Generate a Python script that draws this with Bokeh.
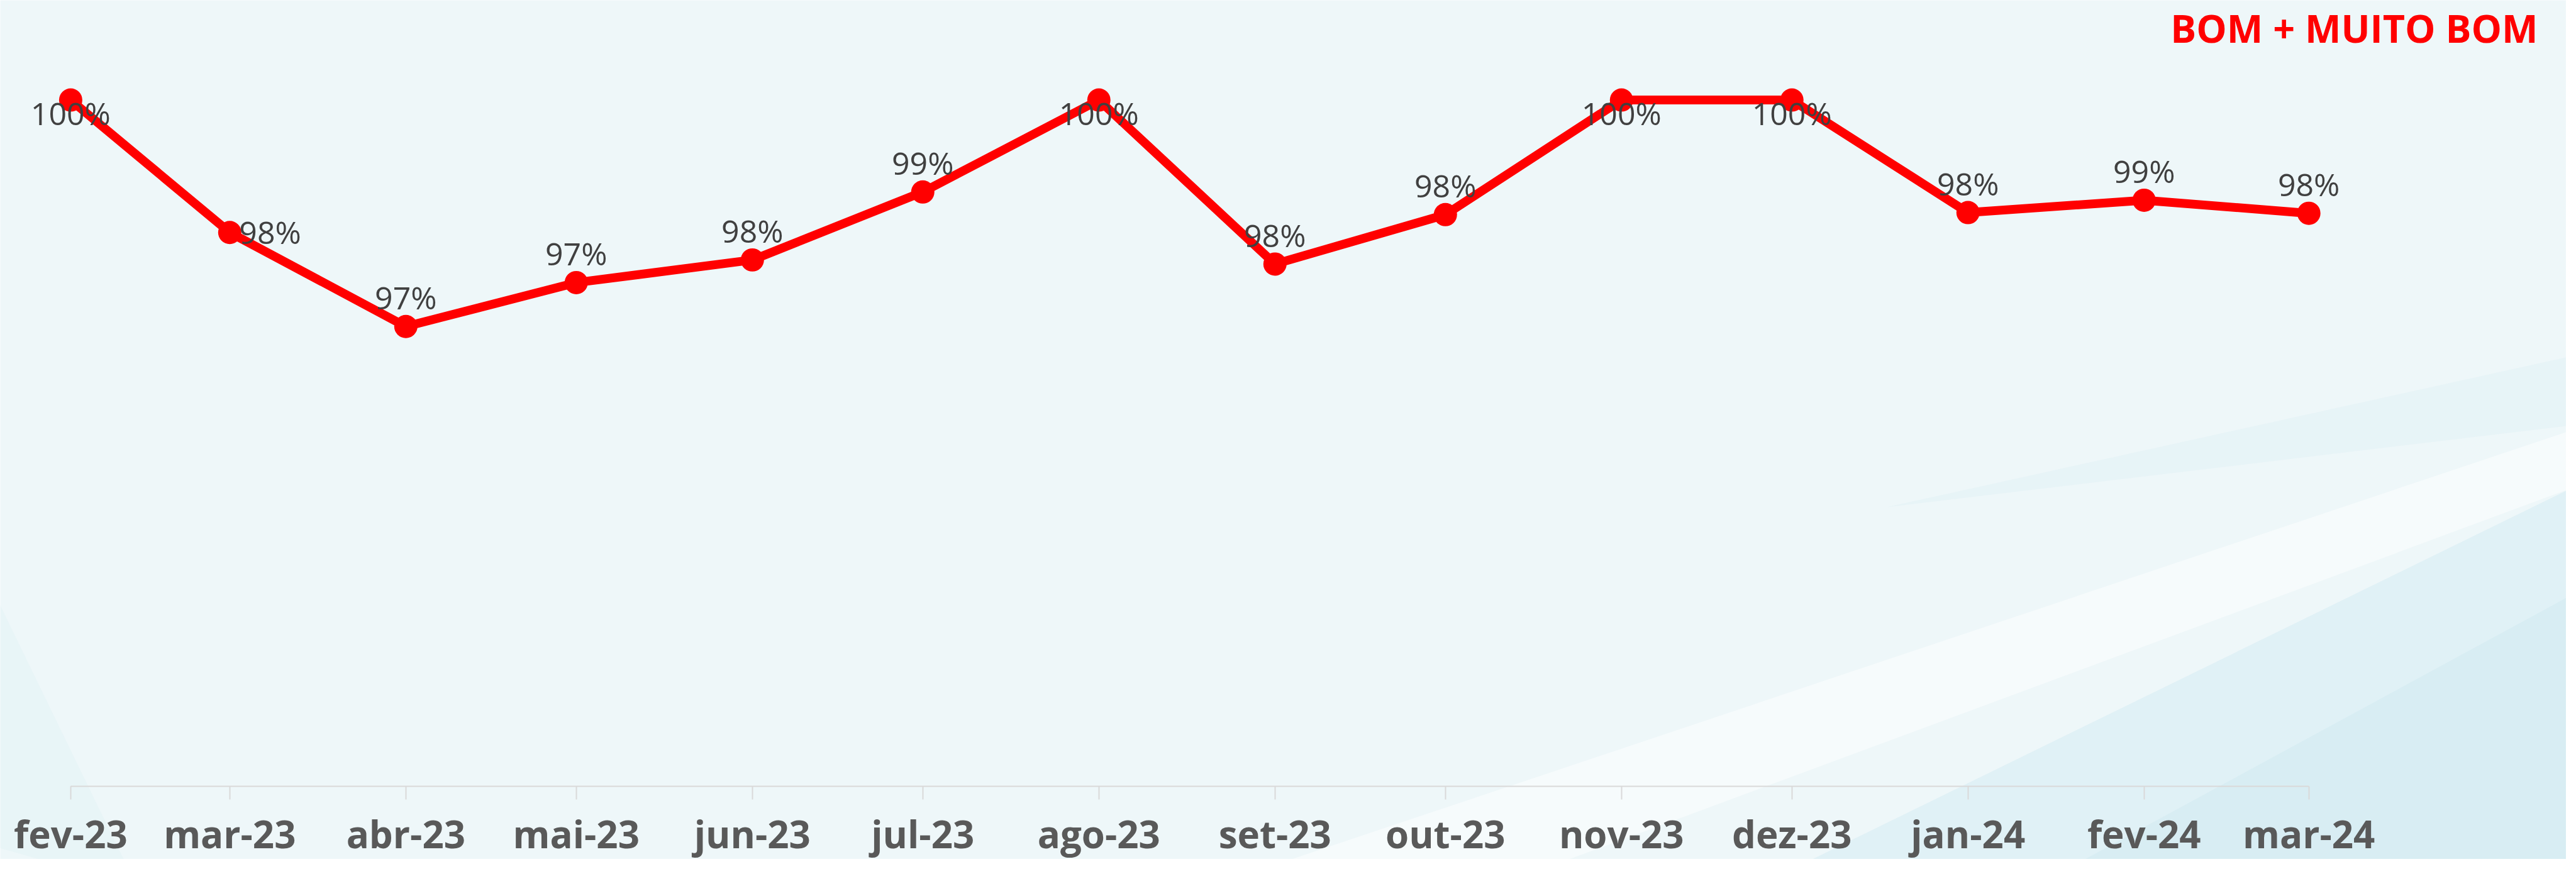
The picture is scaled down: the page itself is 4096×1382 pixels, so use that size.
import pandas as pd
from bokeh.plotting import figure
from bokeh.models import (ColumnDataSource, FixedTicker, Range1d, Label,
                          PolyAnnotation)
from bokeh.core.properties import value
from bokeh.embed import file_html
from bokeh.resources import INLINE

# ---------------- data ----------------
month_starts = ["2023-02-01", "2023-03-01", "2023-04-01", "2023-05-01",
                "2023-06-01", "2023-07-01", "2023-08-01", "2023-09-01",
                "2023-10-01", "2023-11-01", "2023-12-01", "2024-01-01",
                "2024-02-01", "2024-03-01"]
month_labels = ["fev-23", "mar-23", "abr-23", "mai-23", "jun-23", "jul-23",
                "ago-23", "set-23", "out-23", "nov-23", "dez-23", "jan-24",
                "fev-24", "mar-24"]
bom_muito_bom = [1.000, 0.9807, 0.9670, 0.9734, 0.9767, 0.9866, 1.000,
                 0.9761, 0.9833, 1.000, 1.000, 0.9836, 0.9854, 0.9835]
title_text = "BOM + MUITO BOM"
axis_base = 0.90

# per-point data-label placement (as in the original chart)
label_placement = ["center", "right", "above", "above", "above", "above",
                   "center", "above", "above", "center", "center", "above",
                   "above", "above"]

# ---------------- layout ----------------
W, H = 4080, 1366
dates = pd.to_datetime(month_starts)
xdays = [(d - dates[0]).days for d in dates]
span_days = xdays[-1]

x_left_px, x_right_px = 111.9, 3670.7      # first / last month on screen
y_top_px, y_axis_px = 158.6, 1250.0        # 100% and 90% on screen
ppd = (x_right_px - x_left_px) / span_days
ppu = (y_axis_px - y_top_px) / (1.0 - axis_base)
x_start = -x_left_px / ppd
x_end = span_days + (W - x_right_px) / ppd
y_start = axis_base - (H - y_axis_px) / ppu
y_end = 1.0 + y_top_px / ppu

bg = "#eef7f9"
p = figure(width=W, height=H, output_backend="svg", toolbar_location=None,
           x_range=Range1d(x_start, x_end), y_range=Range1d(y_start, y_end),
           y_axis_location=None, min_border=0, tools="")
p.outline_line_color = None
p.background_fill_color = bg
p.border_fill_color = bg
p.xgrid.visible = False
p.ygrid.visible = False

# soft background streaks (decoration)
def streak(xs, ys, color, alpha):
    p.add_layout(PolyAnnotation(xs=xs, ys=ys, xs_units="screen",
                                ys_units="screen", fill_color=color,
                                fill_alpha=alpha, line_color=None,
                                level="underlay"))

streak([2865, 4088, 4088], [-8, 590, -8], "#cfe9f1", 0.45)
streak([3300, 4088, 4088], [-8, 420, -8], "#c9e6ef", 0.35)
streak([2029, 4088, 4088, 2473], [-8, 682, 590, -8], "#ffffff", 0.45)
streak([3000, 4088, 4088], [560, 800, 690], "#d3ecf3", 0.25)
streak([-8, 200, 90, -8], [420, -8, -8, 20], "#d7eef5", 0.25)

# axis line only between first and last month
p.segment(x0=[xdays[0]], y0=[axis_base], x1=[xdays[-1]], y1=[axis_base],
          line_color="#d9d9d9", line_width=2)

xa = p.xaxis[0]
xa.fixed_location = axis_base
xa.ticker = FixedTicker(ticks=xdays, minor_ticks=[])
xa.major_label_overrides = {xd: lab for xd, lab in zip(xdays, month_labels)}
xa.axis_line_color = None
xa.major_tick_line_color = "#d9d9d9"
xa.major_tick_line_width = 2
xa.major_tick_in = 0
xa.major_tick_out = 21
xa.minor_tick_line_color = None
xa.major_label_standoff = 13
xa.major_label_text_font = "Open Sans"
xa.major_label_text_font_style = "bold"
xa.major_label_text_font_size = "60px"
xa.major_label_text_color = "#595959"

src = ColumnDataSource(dict(x=xdays, y=bom_muito_bom))
p.line("x", "y", source=src, line_color="#ff0000", line_width=14,
       line_join="round")
p.scatter("x", "y", source=src, size=37, fill_color="#ff0000",
          line_color=None)

# data labels
place_style = {
    "above": (0, -46, "center"),
    "center": (0, 21, "center"),
    "right": (15, -1, "left"),
}
lab_src = ColumnDataSource(dict(
    x=xdays, y=bom_muito_bom,
    t=[f"{round(v * 100)}%" for v in bom_muito_bom],
    dx=[place_style[k][0] for k in label_placement],
    dy=[place_style[k][1] for k in label_placement],
    al=[place_style[k][2] for k in label_placement],
))
p.text("x", "y", text="t", source=lab_src, x_offset="dx", y_offset="dy",
       text_align="al", text_baseline="alphabetic",
       text_font=value("Open Sans"), text_font_size="50px",
       text_color="#404040")

p.add_layout(Label(x=4035, y=H - 44, x_units="screen", y_units="screen",
                   text=title_text, text_align="right",
                   text_baseline="alphabetic", text_font="Open Sans",
                   text_font_style="bold", text_font_size="61px",
                   text_color="#ff0000"))

open("out.html", "w").write(file_html(p, INLINE))
